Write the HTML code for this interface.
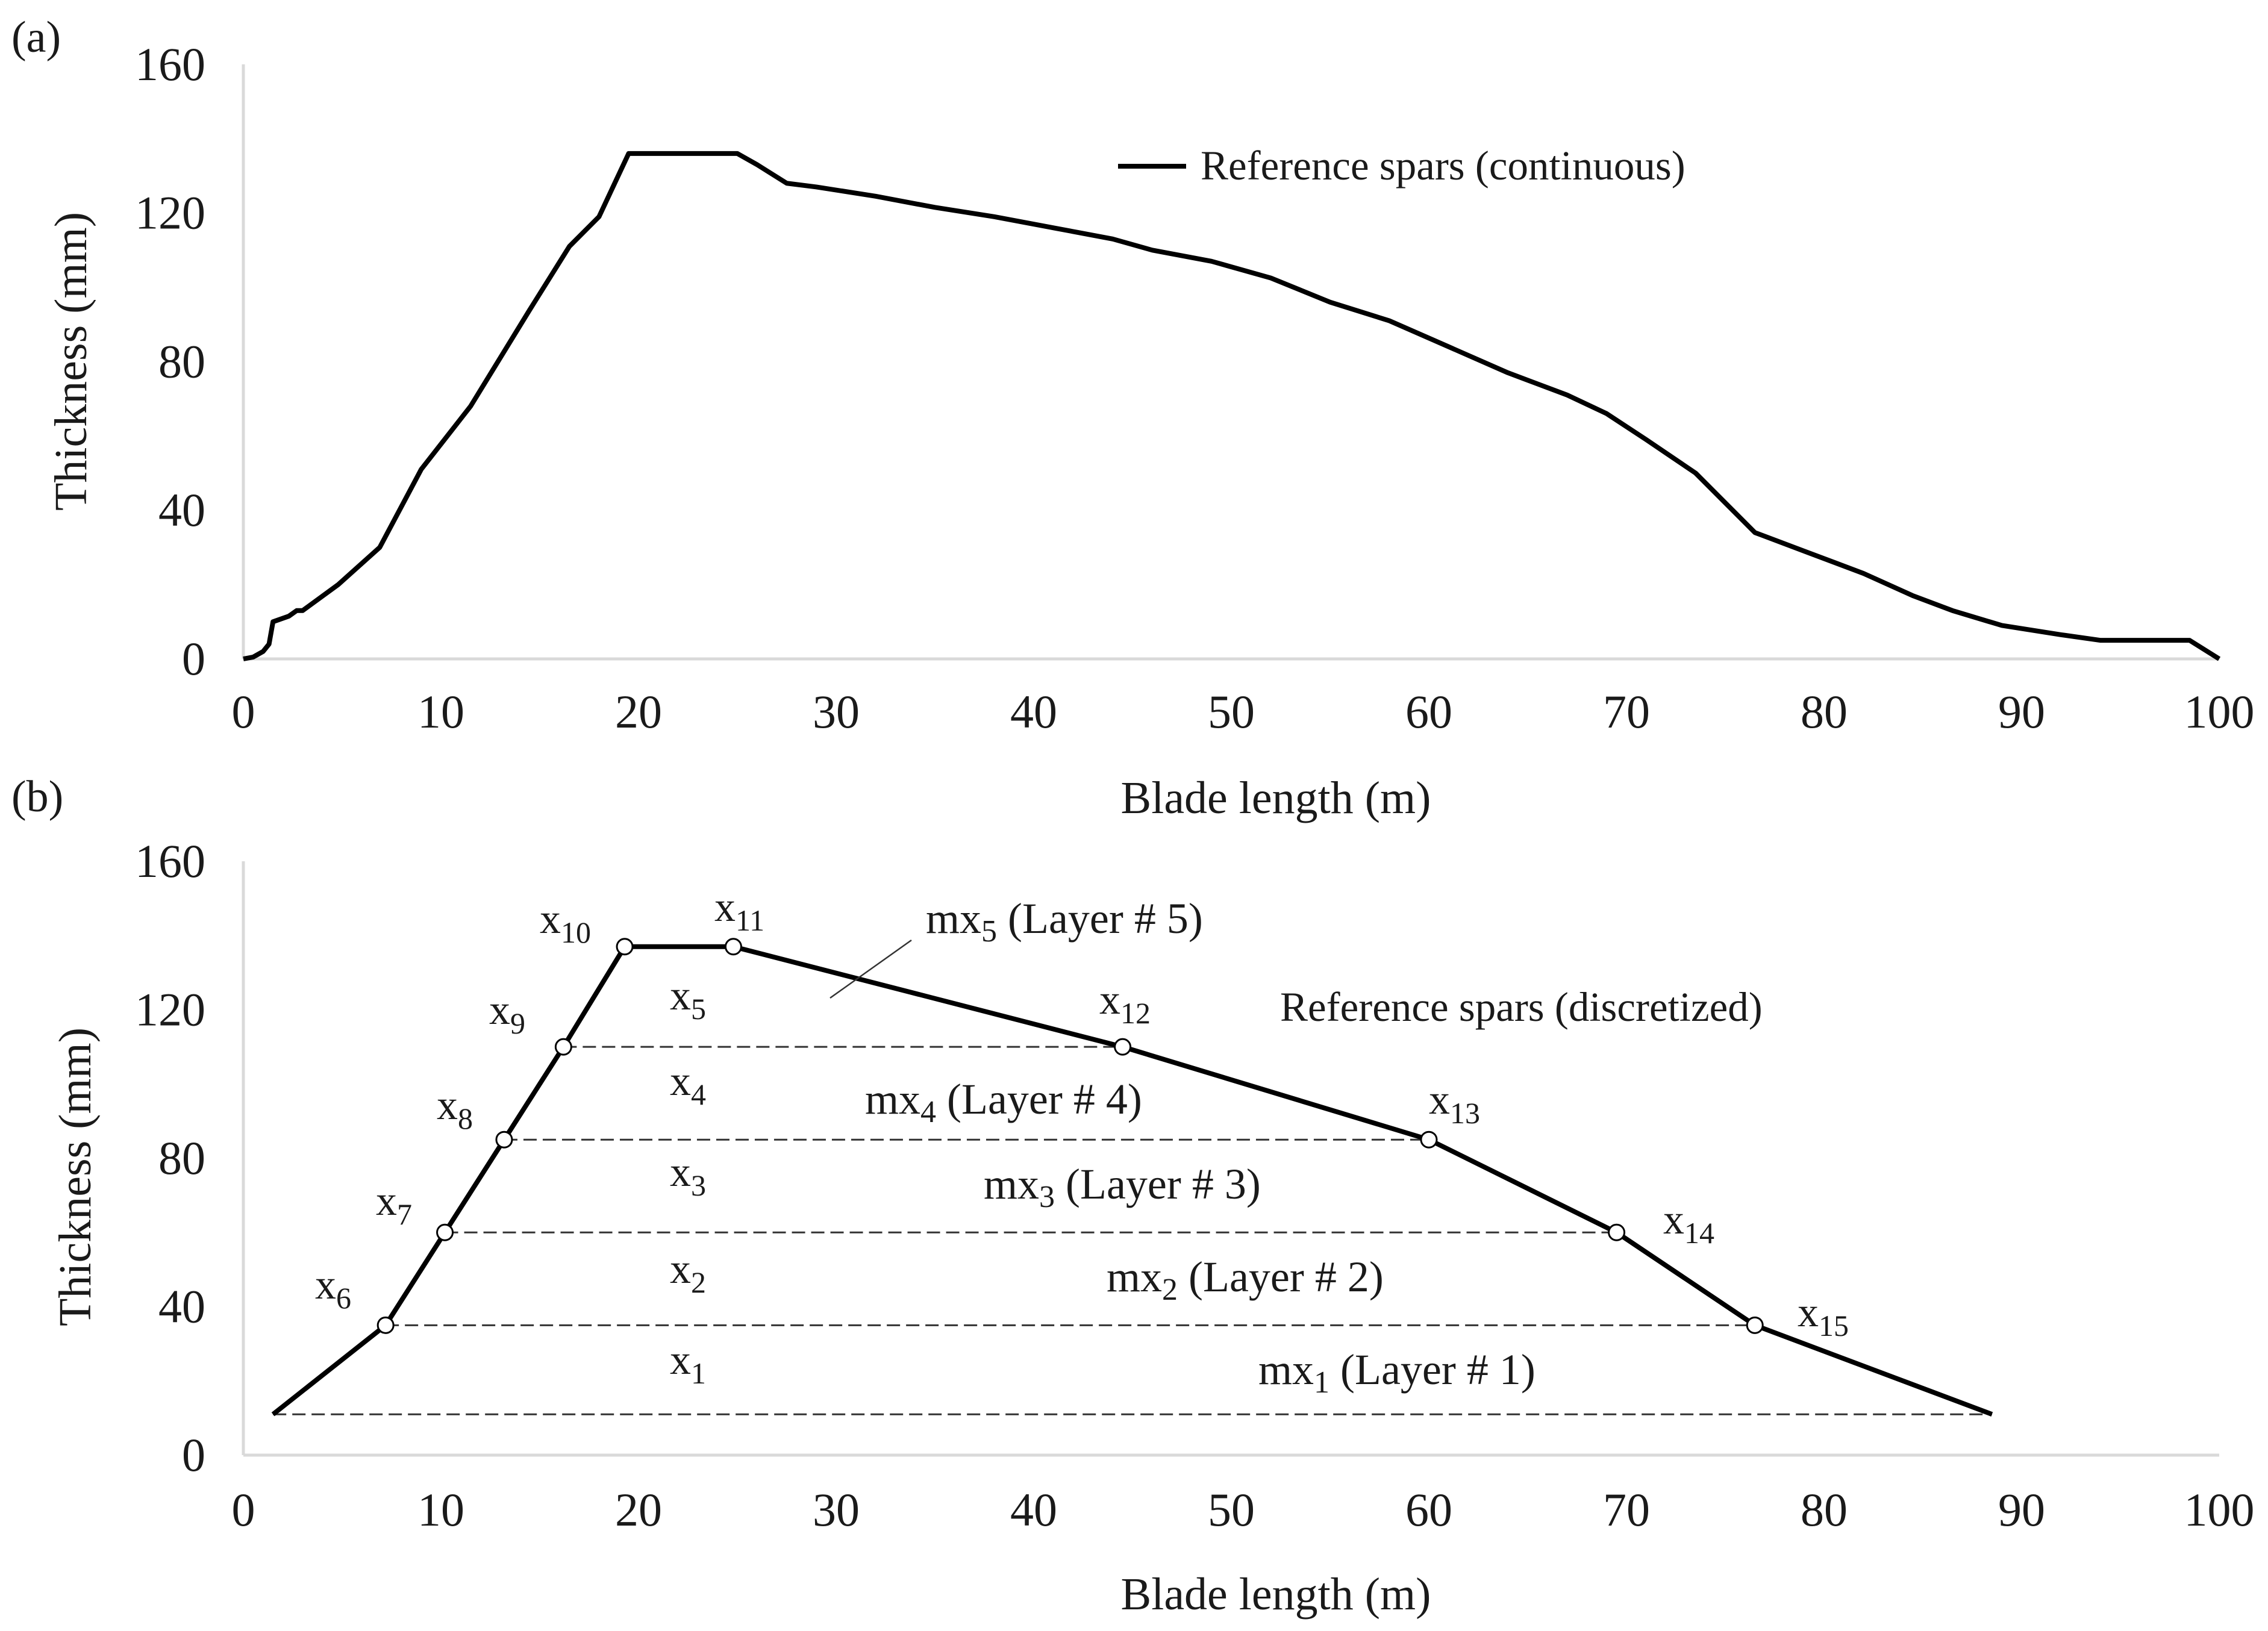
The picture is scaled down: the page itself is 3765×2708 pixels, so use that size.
<!DOCTYPE html>
<html><head><meta charset="utf-8"><style>
html,body{margin:0;padding:0;background:#fff}
svg{display:block}
text{font-family:"Liberation Serif",serif;fill:#1a1a1a}
</style></head><body>
<svg id="chart" width="3765" height="2708" viewBox="0 0 3765 2708" xmlns="http://www.w3.org/2000/svg">
<g id="pa"></g>
<g id="pb"></g>
</svg>
<script>
const yTicks=[0,40,80,120,160];
const xTicks=[0,10,20,30,40,50,60,70,80,90,100];
const contX=[0,0.5,1,1.3,1.5,2.3,2.7,3,4.8,6.9,9,11.5,14.5,16.5,18,19.5,25,26,27.5,29,32,35,38,41,44,46,49,52,55,58,61,64,67,69,71,73.5,76.5,79,82,84.5,86.5,89,92,94,98.5,100];
const contY=[0,0.5,2,4,10,11.5,13,13,20,30,51,68,94,111,119,136,136,133,128,127,124.5,121.5,119,116,113,110,107,102.5,96,91,84,77,71,66,59,50,34,29,23,17,13,9,6.5,5,5,0];
const discX=[1.5,7.2,10.2,13.2,16.2,19.3,24.8,44.5,60,69.5,76.5,88.5];
const discY=[11,35,60,85,110,137,137,110,85,60,35,11];
const markerIdx=[1,2,3,4,5,6,7,8,9,10];
const markerNames=['6','7','8','9','10','11','12','13','14','15'];
const layerLevels=[11,35,60,85,110];
const layerStartX=[1.5,7.2,10.2,13.2,16.2];
const layerEndX=[88.5,76.5,69.5,60,44.5];

const NS='http://www.w3.org/2000/svg';
const X=v=>404+v*32.8;
const Ya=v=>1094-v*6.17;
const Yb=v=>2416-v*6.1625;
function mk(p,tag,attrs,txt){const e=document.createElementNS(NS,tag);for(const k in attrs)e.setAttribute(k,attrs[k]);if(txt!==undefined)e.textContent=txt;p.appendChild(e);return e;}

function axes(g,Y,x0,tickBase,titleY,ytitleY,letter,letterY){
  let e=mk(g,'line',{x1:X(0),y1:Y(160),x2:X(0),y2:Y(0),stroke:'#d9d9d9','stroke-width':5});
  
  
  e=mk(g,'line',{x1:X(0),y1:Y(0),x2:X(100),y2:Y(0),stroke:'#d9d9d9','stroke-width':5});
  
  
  yTicks.forEach(t=>{const el=mk(g,'text',{x:341,y:Y(t)+26,'text-anchor':'end','font-size':78},String(t));
    
    });
  xTicks.forEach(t=>{const el=mk(g,'text',{x:X(t),y:tickBase,'text-anchor':'middle','font-size':78},String(t));
    
    });
  e=mk(g,'text',{x:2118,y:titleY,'text-anchor':'middle','font-size':76},'Blade length (m)');
  
  
  e=mk(g,'text',{x:0,y:0,'text-anchor':'middle','font-size':76,transform:`translate(${x0},${ytitleY}) rotate(-90)`},'Thickness (mm)');
  
  
  e=mk(g,'text',{x:19,y:letterY,'font-size':74},letter);
  
  
}
const pa=document.getElementById('pa');
axes(pa,Ya,143,1208,1350,600,'(a)',86);
let pts=contX.map((x,i)=>X(x)+','+Ya(contY[i])).join(' ');
let l=mk(pa,'polyline',{points:pts,fill:'none',stroke:'#000','stroke-width':8,'stroke-linejoin':'round'});


l=mk(pa,'line',{x1:1856,y1:276,x2:1969,y2:276,stroke:'#000','stroke-width':8});


l=mk(pa,'text',{x:1993,y:298,'font-size':69},'Reference spars (continuous)');



const pb=document.getElementById('pb');
axes(pb,Yb,150,2533,2672,1954,'(b)',1347);
layerLevels.forEach((v,i)=>{const d=mk(pb,'line',{x1:X(layerStartX[i]),y1:Yb(v),x2:X(layerEndX[i]),y2:Yb(v),stroke:'#333','stroke-width':3,'stroke-dasharray':'22,10'});
  
  });
pts=discX.map((x,i)=>X(x)+','+Yb(discY[i])).join(' ');
l=mk(pb,'polyline',{points:pts,fill:'none',stroke:'#000','stroke-width':8,'stroke-linejoin':'round'});


markerIdx.forEach(i=>{const c=mk(pb,'circle',{cx:X(discX[i]),cy:Yb(discY[i]),r:13,fill:'#fff',stroke:'#000','stroke-width':3});
  
  });
function sub(x,y,base,s,name){const t=mk(pb,'text',{x:x,y:y,'font-size':70});
  
  
  mk(t,'tspan',{},base);mk(t,'tspan',{dy:16,'font-size':50},s);return t;}
const ptLabPos=[[523,2156],[624,2017],[725,1858],[812,1700],[896,1549],[1186,1529],[1825,1683],[2372,1849],[2761,2048],[2984,2202]];
markerNames.forEach((n,i)=>sub(ptLabPos[i][0],ptLabPos[i][1],'x',n,'point-label'));
const layerLabY=[2281,2130,1969,1818,1676];
layerLabY.forEach((y,i)=>sub(1112,y,'x',String(i+1),'layer-region-label'));
function mxl(x,y,n){const t=mk(pb,'text',{x:x,y:y,'font-size':72});
  
  
  mk(t,'tspan',{},'mx');mk(t,'tspan',{dy:14,'font-size':52},String(n));mk(t,'tspan',{dy:-14},` (Layer # ${n})`);}
mxl(2089,2298,1);mxl(1837,2144,2);mxl(1633,1990,3);mxl(1436,1849,4);mxl(1537,1549,5);
l=mk(pb,'line',{x1:1378,y1:1657,x2:1513,y2:1561,stroke:'#333','stroke-width':2.5});


l=mk(pb,'text',{x:2125,y:1695,'font-size':69},'Reference spars (discretized)');


</script>
</body></html>
